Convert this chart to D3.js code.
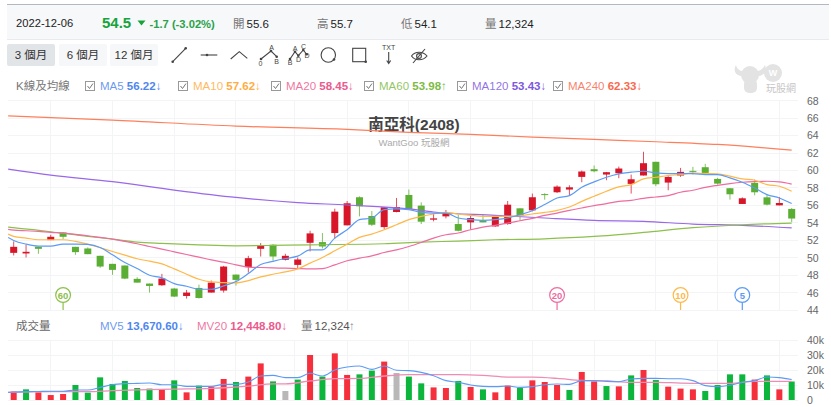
<!DOCTYPE html>
<html lang="zh-Hant">
<head>
<meta charset="utf-8">
<title>南亞科(2408)</title>
<script src="https://cdn.jsdelivr.net/npm/d3@7"></script>
<style>
  html, body { margin: 0; padding: 0; background: #fff; overflow: hidden; }
  svg { display: block; font-family: "Liberation Sans", "Noto Sans CJK TC", sans-serif; }
</style>
</head>
<body>
<svg id="chart" width="831" height="407"></svg>
<script>
// Daily candles, oldest first
const highs = [51.88,51.49,51.3,52.64,52.95,51.26,51.19,50.23,49.31,49.12,47.78,47.05,48.16,46.55,46.32,46.93,47.4,49.08,48.08,50.23,51.69,51.57,50.46,50.04,53.1,52.84,55.63,56.51,57.04,55.36,55.82,56.86,57.82,56.36,55.06,55.48,54.94,54.9,54.94,54.82,56.51,55.67,57.36,57.4,58.31,58.31,60.0,60.58,59.84,60.46,59.54,62.15,61.0,59.35,60.3,60.42,60.77,59.16,58.0,56.93,58.97,57.24,56.97,55.7];
const bodyTops = [51.26,50.69,51.26,52.41,52.91,51.26,51.07,50.23,49.31,49.12,47.59,47.05,47.62,46.48,46.02,46.55,47.16,49.0,48.08,49.96,51.42,51.5,50.23,49.81,52.8,51.8,55.29,56.25,56.94,54.79,55.79,55.82,57.2,55.98,54.52,55.13,53.87,54.56,54.29,54.82,56.09,55.67,56.94,57.3,58.16,58.08,59.89,60.15,59.81,60.23,59.0,60.84,61.0,59.27,59.85,59.96,60.38,59.04,57.97,56.82,58.58,56.93,56.28,55.6];
const bodyBottoms = [50.57,50.5,51.03,52.03,52.41,50.65,50.42,49.0,48.62,47.62,47.16,46.78,46.86,45.56,45.63,45.4,46.02,46.25,47.47,48.93,51.03,50.15,49.77,49.19,51.72,51.3,52.84,53.72,55.9,53.79,53.52,55.25,55.6,54.14,54.37,54.75,53.1,54.06,54.06,53.6,53.87,54.86,55.44,57.2,57.51,57.82,59.27,59.92,59.54,59.69,58.47,59.43,58.43,58.62,59.43,59.89,59.73,58.5,57.28,56.17,57.51,56.09,56.01,54.5];
const lows = [50.27,50.04,50.46,52.03,52.15,50.34,50.42,48.85,48.05,47.55,47.16,46.02,46.78,45.52,45.33,45.33,46.02,46.02,46.82,48.31,50.15,49.66,49.69,48.74,50.73,51.07,52.18,53.72,54.75,53.64,53.3,55.21,55.6,53.87,54.18,54.52,53.03,53.22,54.06,53.56,53.79,54.25,55.33,56.66,57.43,57.16,58.66,59.8,58.89,59.12,57.36,59.43,58.2,57.74,59.27,59.54,59.54,58.39,56.67,56.17,57.16,56.01,56.01,54.1];
const candleTone = "RRGRGGGGGGGGRGRGRRGRRGRRRGRRGGRRGGRRGRGRRGRGRRRGRRRRGRRGGGGRGGRG";

// Volumes in thousands of lots, with the tone of each bar (N = unchanged)
const volumes = [5.6,7.1,5.1,3.3,4,10,4.9,15.1,10.7,12.7,8,7.6,7.1,13.1,5.1,9.6,8.9,14,12,15.6,24.4,12.4,6,13.6,30,15.6,31.1,16.7,17.1,19.6,25.6,18,15.6,11.1,8.4,8,12.7,8.7,7.1,5.1,9.6,8.2,13.1,12,10,6.7,18.7,12.4,9.3,9.1,16.4,20,13.3,8.9,7.6,7.1,6,10,17.1,17.1,13.6,16.4,7.1,12.324];
const volumeTone = "RGRRRGGGGGGGRGRGRRGRRGNGRGRRGGRNGGRRGRGRRGRRRGRRGRGRGRRRGGGGRGRG";

// Short averages have a reading at every session; the first reading sits at the plot's left edge
const leadIndex = -0.45;
const ma5 = [52.34,51.99,51.57,51.34,51.34,51.57,51.57,51.53,51.19,50.35,49.46,48.77,48.01,47.7,47.05,46.74,46.4,46.4,46.78,47.28,48.2,49.23,49.6,49.92,50.19,50.92,50.92,52.26,53.22,54.37,54.56,55.52,55.6,55.52,55.21,55.13,55.13,54.56,54.37,54.29,54.37,54.56,54.94,55.4,56.1,56.86,57.13,58.08,58.7,59.23,59.62,59.81,59.92,59.73,59.65,59.65,59.65,59.54,59.54,59.16,58.66,58.0,57.24,56.86,56.22];
const ma10 = [52.72,52.45,52.26,52.07,52.07,52.07,51.88,51.57,51.15,50.73,50.31,49.89,49.62,49.31,48.74,48.12,47.55,47.24,47.16,47.13,47.39,47.82,48.12,48.39,48.74,49.39,50.04,50.8,51.57,52.34,52.72,53.22,53.79,54.37,54.75,55.02,55.21,55.02,54.87,54.75,54.75,54.75,54.83,55.02,55.2,55.44,55.82,56.47,57.05,57.62,58.12,58.39,59.04,59.23,59.43,59.54,59.73,59.65,59.62,59.35,59.04,58.89,58.39,58.2,57.62];
const ma20 = [53.26,53.18,53.1,53.03,52.91,52.84,52.68,52.53,52.34,52.15,51.88,51.61,51.3,51.0,50.69,50.38,50.08,49.77,49.5,49.2,48.93,48.89,48.85,48.81,48.77,48.74,48.77,49.2,49.66,49.96,50.23,50.61,50.92,51.3,51.76,52.26,52.64,52.84,53.22,53.52,53.72,53.98,54.25,54.52,54.87,55.13,55.44,55.71,55.98,56.2,56.47,56.59,56.82,56.97,57.13,57.51,57.74,58.08,58.31,58.51,58.66,58.74,58.77,58.7,58.45];

// Long averages move slowly, so they are kept as readings at selected sessions
const ma60Index = [-0.45,3,6,8,10,12,15,18,21,24,30,33,36,39,43,47,51,55,59,63];
const ma60 = [53.52,52.99,52.45,52.15,51.8,51.65,51.49,51.38,51.42,51.49,51.61,51.8,51.92,52.07,52.18,52.45,52.91,53.45,53.79,53.98];
const ma120Index = [-0.45,3,8,13,18,23,27,32,34,39,43,47,51,55,59,63];
const ma120 = [60.17,59.48,58.72,57.76,56.92,56.33,56.05,55.6,55.25,54.87,54.56,54.29,54.18,53.87,53.72,53.43];
const ma240Index = [-0.45,8,18,27,32,37,42,47,52,57,63];
const ma240 = [66.27,65.78,65.09,64.71,64.38,64.14,63.83,63.56,63.3,62.99,62.33];

// Volume averages
const mv5 = [5.1,5.3,5.6,5.7,5.8,5.8,6.7,6.7,8.4,10.2,10.9,11.1,11.3,10.2,10.2,9.1,9.1,9.1,10.4,10.4,12,16,16.4,14.9,14.9,17.8,16,20,22,22.7,20.4,22.7,19.8,19.6,18.4,16.2,12.9,11.8,10,9.1,8.9,9.3,8.4,8.9,10.2,10.7,10.4,12.9,12.9,12.4,12.2,14,14.4,14.4,14.2,14.2,12.9,9.6,8.9,9.8,11.8,12.9,15.3,14.9,13.67];
const mv20Index = [-0.45,3,6,8,10,13,16,19,21,22,24,26,28,30,32,34,36,38,40,42,44,46,48,50,52,54,56,58,60,62,63];
const mv20 = [5.1,5.6,5.6,6.2,6.7,7.3,7.8,9.3,10.7,10.7,12.7,14.2,14.4,16,16.9,16.9,16.9,16.4,15.3,15.2,14.4,13.1,12.7,11.8,11.8,11.3,11.1,11.1,12.4,12.4,12.45];

// Deduction markers of the averages, counted back from the last session
const badgeSpans = [60, 20, 10, 5];
const priceTicks = d3.range(44, 69, 2);
const volumeTicks = [0, 10, 20, 30, 40];
const gridSessions = [3, 8, 13, 18, 22.75, 27, 32, 37, 42, 47, 52, 57, 62];

const legendRows = [
  { name: "MA5", value: "56.22", dir: "↓", line: "#5b9bf5", ink: "#4f86ee" },
  { name: "MA10", value: "57.62", dir: "↓", line: "#ffb84a", ink: "#ffad42" },
  { name: "MA20", value: "58.45", dir: "↓", line: "#ee6c9f", ink: "#ec5a8e" },
  { name: "MA60", value: "53.98", dir: "↑", line: "#8cc04b", ink: "#7dbb45" },
  { name: "MA120", value: "53.43", dir: "↓", line: "#9a68e8", ink: "#7d58e0" },
  { name: "MA240", value: "62.33", dir: "↓", line: "#ff7f5c", ink: "#f9694f" }
];
const legendStarts = [85, 178, 271, 364, 457, 553];

const svg = d3.select("#chart");
const plotLeft = 8, plotRight = 798;

const x = d3.scaleLinear().domain([0, 63]).range([13.7, 791.7]);
const y = d3.scaleLinear().domain([44, 68]).range([310.2, 100.7]);
const yVol = d3.scaleLinear().domain([0, 40]).range([400, 340]);

// Header strip
svg.append("rect").attr("x", 7).attr("y", 5).attr("width", 822).attr("height", 34).attr("fill", "#f7f8fa");
svg.append("line").attr("x1", 7).attr("x2", 829).attr("y1", 4.5).attr("y2", 4.5).attr("stroke", "#b4b8bf").attr("stroke-width", 1);
svg.append("line").attr("x1", 7).attr("x2", 829).attr("y1", 39.5).attr("y2", 39.5).attr("stroke", "#e8eaed");

function label(px, py, str, opts = {}) {
  return svg.append("text").attr("x", px).attr("y", py).text(str)
    .attr("font-size", opts.size || 12)
    .attr("font-weight", opts.weight || 400)
    .attr("fill", opts.fill || "#333")
    .attr("text-anchor", opts.anchor || "start");
}

label(16, 27, "2022-12-06", { size: 11.2, fill: "#222" });
label(102, 28, "54.5", { size: 15, weight: 700, fill: "#16a33c" });
svg.append("path").attr("d", "M137.5 20.5h8l-4 5z").attr("fill", "#16a33c");
label(149.5, 28, "-1.7 (-3.02%)", { size: 11.2, weight: 700, fill: "#2aa24a" });
[["開", "55.6", 233], ["高", "55.7", 317], ["低", "54.1", 401], ["量", "12,324", 485]].forEach(d => {
  label(d[2], 28, d[0], { size: 11.5, fill: "#777" });
  label(d[2] + 13.5, 28, d[1], { size: 11.5, fill: "#222" });
});

// Range buttons
[["3 個月", 7, 48, "#e2e5e8"], ["6 個月", 59, 48, "#f6f7f9"], ["12 個月", 110, 48, "#f6f7f9"]].forEach(d => {
  svg.append("rect").attr("x", d[1]).attr("y", 44).attr("width", d[2]).attr("height", 22).attr("rx", 2).attr("fill", d[3]);
  label(d[1] + d[2] / 2, 59, d[0], { size: 11.5, fill: "#333", anchor: "middle" });
});

// Drawing tools
const tools = svg.append("g").attr("fill", "none").attr("stroke", "#444").attr("stroke-width", 1.1);
const toolDot = (cx, cy) => tools.append("circle").attr("cx", cx).attr("cy", cy).attr("r", 1.3).attr("fill", "#444").attr("stroke", "none");
const toolTag = (px, py, s) => tools.append("text").attr("x", px).attr("y", py).text(s).attr("font-size", 7).attr("text-anchor", "middle").attr("fill", "#444").attr("stroke", "none");
tools.append("path").attr("d", "M172.7 61.7L185.7 48.3"); toolDot(172.7, 61.7); toolDot(185.7, 48.3);
tools.append("path").attr("d", "M200.7 55H217.3"); toolDot(207, 55);
tools.append("path").attr("d", "M230.7 59L239.3 51.7L247.3 58.3");
tools.append("path").attr("d", "M261 59L271 51L276.7 56.7"); toolDot(261, 59); toolDot(271, 51); toolDot(276.7, 56.7);
toolTag(271.5, 50, "A"); toolTag(260.5, 66, "0"); toolTag(276.7, 64, "B");
tools.append("path").attr("d", "M290 59L295 51.7L298.3 55.7L303.3 50L306.7 54.3");
[[290, 59], [295, 51.7], [298.3, 55.7], [303.3, 50], [306.7, 54.3]].forEach(p => toolDot(p[0], p[1]));
toolTag(295, 51, "A"); toolTag(290, 65, "B"); toolTag(298.5, 62, "D"); toolTag(303.5, 49, "C"); toolTag(307, 58, "D");
tools.append("circle").attr("cx", 328.3).attr("cy", 55).attr("r", 7.2); toolDot(334, 59.5);
tools.append("rect").attr("x", 352.7).attr("y", 48.3).attr("width", 13).attr("height", 13.4); toolDot(365.7, 61.7);
toolTag(388.7, 50, "TXT");
tools.append("path").attr("d", "M388.7 52V63M386.7 60.5L388.7 63.5L390.7 60.5");
tools.append("path").attr("d", "M411.5 56C415 51 423 51 427 56C423 61 415 61 411.5 56Z");
tools.append("circle").attr("cx", 419).attr("cy", 56).attr("r", 2.4);
tools.append("path").attr("d", "M413 63L425 49");

// Legend rows
label(16, 90, "K線及均線", { size: 11.5, fill: "#777" });
function checkbox(cx) {
  svg.append("rect").attr("x", cx + 0.5).attr("y", 81.5).attr("width", 9).attr("height", 9).attr("fill", "#fff").attr("stroke", "#999");
  svg.append("path").attr("d", `M${cx + 2.5} 86l2 2.5l3.5-5`).attr("fill", "none").attr("stroke", "#777");
}
function legendEntry(px, py, name, value, dir, ink) {
  const t = svg.append("text").attr("x", px).attr("y", py).attr("font-size", 11.5);
  t.append("tspan").text(name + " ").attr("fill", ink).attr("fill-opacity", 0.85);
  t.append("tspan").text(value).attr("fill", ink).attr("font-weight", 700);
  t.append("tspan").text(dir).attr("fill", ink);
}
legendRows.forEach((d, i) => {
  checkbox(legendStarts[i]);
  legendEntry(legendStarts[i] + 15, 90, d.name, d.value, d.dir, d.ink);
});

// Brand mark
const mark = svg.append("g").attr("fill", "#e3e3e3");
mark.append("circle").attr("cx", 750).attr("cy", 75).attr("r", 9);
mark.append("path").attr("d", "M736 65C733 70 735 75 741 76L743 71C740 71 737 69 736 65ZM765 65C767 70 765 75 759 76L757 71C760 71 763 69 765 65Z");
mark.append("rect").attr("x", 744).attr("y", 79).attr("width", 13).attr("height", 14).attr("rx", 5);
mark.append("circle").attr("cx", 773).attr("cy", 73).attr("r", 9);
svg.append("text").attr("x", 773).attr("y", 76).attr("text-anchor", "middle").attr("font-size", 9).attr("font-weight", 700).attr("fill", "#fff").text("W");
label(766, 92, "玩股網", { size: 10, fill: "#c6c6c6" });

// Grid
const grid = svg.append("g").attr("stroke", "#f3f4f5").attr("stroke-width", 1).attr("shape-rendering", "crispEdges");
grid.selectAll(".h").data(priceTicks).join("line")
  .attr("x1", plotLeft).attr("x2", plotRight).attr("y1", d => y(d)).attr("y2", d => y(d));
grid.selectAll(".v").data(gridSessions).join("line")
  .attr("x1", d => x(d)).attr("x2", d => x(d)).attr("y1", y(68)).attr("y2", y(44));
const volGrid = svg.append("g").attr("stroke", "#f3f4f5").attr("shape-rendering", "crispEdges");
volGrid.selectAll(".h").data(volumeTicks).join("line")
  .attr("x1", plotLeft).attr("x2", plotRight).attr("y1", d => yVol(d)).attr("y2", d => yVol(d));
volGrid.selectAll(".v").data(gridSessions).join("line")
  .attr("x1", d => x(d)).attr("x2", d => x(d)).attr("y1", yVol(40)).attr("y2", yVol(0));

// Axes on the right
const axisPrice = svg.append("g").attr("transform", `translate(${plotRight},0)`)
  .call(d3.axisRight(y).tickValues(priceTicks).tickSize(0).tickPadding(9));
const axisVolume = svg.append("g").attr("transform", `translate(${plotRight},0)`)
  .call(d3.axisRight(yVol).tickValues(volumeTicks).tickSize(0).tickPadding(9).tickFormat(d => d ? d + "k" : "0"));
[axisPrice, axisVolume].forEach(a => {
  a.select(".domain").remove();
  a.selectAll("text").attr("font-size", 10.5).attr("fill", "#666").attr("font-family", '"Liberation Sans", sans-serif');
});

// Title
label(414, 130, "南亞科(2408)", { size: 15.5, weight: 700, fill: "#444", anchor: "middle" });
label(414, 145.5, "WantGoo 玩股網", { size: 9.5, fill: "#aaa", anchor: "middle" });

// Clip so the averages start flush with the plot
svg.append("clipPath").attr("id", "plot-clip").append("rect")
  .attr("x", plotLeft).attr("y", 90).attr("width", plotRight - plotLeft).attr("height", 320);

// Candles
const RED = "#d8162a", GREEN = "#5aae33";
const tone = i => candleTone[i] === "R" ? RED : GREEN;
const candles = svg.append("g");
candles.selectAll(".wick").data(highs).join("line")
  .attr("x1", (d, i) => x(i)).attr("x2", (d, i) => x(i))
  .attr("y1", d => y(d)).attr("y2", (d, i) => y(lows[i]))
  .attr("stroke", (d, i) => tone(i)).attr("stroke-opacity", 0.75);
candles.selectAll(".body").data(bodyTops).join("rect")
  .attr("x", (d, i) => x(i) - 3.5).attr("width", 7)
  .attr("y", d => y(d)).attr("height", (d, i) => Math.max(1, y(bodyBottoms[i]) - y(d)))
  .attr("fill", (d, i) => tone(i));

// Moving averages
const drawAverage = (scale, xs, values, colour, width) => {
  const gen = d3.line().x((d, i) => x(xs[i])).y(d => scale(d)).curve(d3.curveMonotoneX);
  svg.append("path").datum(values).attr("d", gen).attr("fill", "none")
    .attr("stroke", colour).attr("stroke-width", width).attr("clip-path", "url(#plot-clip)");
};
const everySession = n => [leadIndex].concat(d3.range(0, n - 1));
drawAverage(y, ma240Index, ma240, legendRows[5].line, 1.2);
drawAverage(y, ma120Index, ma120, legendRows[4].line, 1.2);
drawAverage(y, ma60Index, ma60, legendRows[3].line, 1.2);
drawAverage(y, everySession(ma20.length), ma20, legendRows[2].line, 1.2);
drawAverage(y, everySession(ma10.length), ma10, legendRows[1].line, 1.2);
drawAverage(y, everySession(ma5.length), ma5, legendRows[0].line, 1.2);

// Deduction badges
const lastSession = highs.length - 1;
const badgeColour = { 60: "#8cc04b", 20: "#ee6c9f", 10: "#ffb84a", 5: "#5b9bf5" };
badgeSpans.forEach(n => {
  const bx = x(lastSession - (n - 1));
  const g = svg.append("g");
  g.append("line").attr("x1", bx).attr("x2", bx).attr("y1", 302).attr("y2", 310).attr("stroke", badgeColour[n]).attr("stroke-width", 1.2);
  g.append("circle").attr("cx", bx).attr("cy", 295).attr("r", 7.4).attr("fill", "#fff").attr("stroke", badgeColour[n]).attr("stroke-width", 1.2);
  g.append("text").attr("x", bx).attr("y", 298.5).attr("text-anchor", "middle").attr("font-size", 9.5).attr("font-weight", 700).attr("fill", badgeColour[n]).text(n);
});

// Volume panel
label(16, 330, "成交量", { size: 11.5, fill: "#666" });
legendEntry(100, 330, "MV5", "13,670.60", "↓", "#4f86ee");
legendEntry(197, 330, "MV20", "12,448.80", "↓", "#ec5a8e");
label(301, 330, "量", { size: 11.5, fill: "#777" });
label(314.5, 330, "12,324", { size: 11.5, fill: "#555", weight: 500 });
label(349, 330, "↑", { size: 11.5, fill: "#8a8f94" });

const volColour = { R: "#f62f3c", G: "#0cb53b", N: "#b8b8b8" };
svg.append("g").selectAll("rect").data(volumes).join("rect")
  .attr("x", (d, i) => x(i) - 3).attr("width", 6)
  .attr("y", d => yVol(d)).attr("height", d => yVol(0) - yVol(d))
  .attr("fill", (d, i) => volColour[volumeTone[i]]);
drawAverage(yVol, mv20Index, mv20, "#ee8cb4", 1.3);
drawAverage(yVol, everySession(mv5.length), mv5, "#5b9bf5", 1.1);
</script>
</body>
</html>
